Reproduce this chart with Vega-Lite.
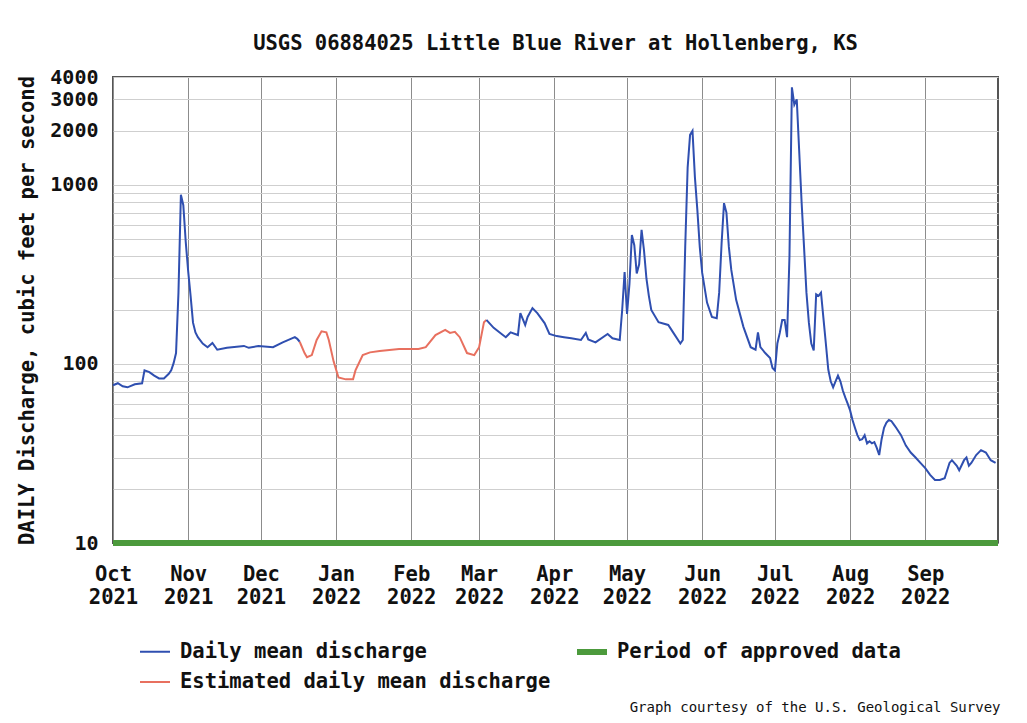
{
  "$schema": "https://vega.github.io/schema/vega-lite/v6.json",
  "autosize": {"type": "none"},
  "width": 885,
  "height": 466,
  "padding": {"left": 113, "top": 77, "right": 29, "bottom": 180},
  "background": "white",
  "title": {"text": "USGS 06884025 Little Blue River at Hollenberg, KS", "font": "DejaVu Sans Mono", "fontSize": 20.5, "fontWeight": "bold", "color": "#111", "anchor": "middle", "offset": 13},
  "config": {
    "view": {"stroke": "#555", "strokeWidth": 2},
    "axis": {"labelFont": "DejaVu Sans Mono", "titleFont": "DejaVu Sans Mono", "labelColor": "#111", "titleColor": "#111"}
  },
  "datasets": {
    "flow": [
      {"date": "2021-10-01", "q": 76, "series": "Daily mean discharge", "seg": "a"},
      {"date": "2021-10-03", "q": 78, "series": "Daily mean discharge", "seg": "a"},
      {"date": "2021-10-05", "q": 75, "series": "Daily mean discharge", "seg": "a"},
      {"date": "2021-10-07", "q": 74, "series": "Daily mean discharge", "seg": "a"},
      {"date": "2021-10-10", "q": 77, "series": "Daily mean discharge", "seg": "a"},
      {"date": "2021-10-13", "q": 78, "series": "Daily mean discharge", "seg": "a"},
      {"date": "2021-10-14", "q": 92, "series": "Daily mean discharge", "seg": "a"},
      {"date": "2021-10-16", "q": 90, "series": "Daily mean discharge", "seg": "a"},
      {"date": "2021-10-18", "q": 86, "series": "Daily mean discharge", "seg": "a"},
      {"date": "2021-10-20", "q": 83, "series": "Daily mean discharge", "seg": "a"},
      {"date": "2021-10-22", "q": 83, "series": "Daily mean discharge", "seg": "a"},
      {"date": "2021-10-24", "q": 88, "series": "Daily mean discharge", "seg": "a"},
      {"date": "2021-10-25", "q": 92, "series": "Daily mean discharge", "seg": "a"},
      {"date": "2021-10-26", "q": 101, "series": "Daily mean discharge", "seg": "a"},
      {"date": "2021-10-27", "q": 115, "series": "Daily mean discharge", "seg": "a"},
      {"date": "2021-10-28", "q": 250, "series": "Daily mean discharge", "seg": "a"},
      {"date": "2021-10-29", "q": 880, "series": "Daily mean discharge", "seg": "a"},
      {"date": "2021-10-30", "q": 770, "series": "Daily mean discharge", "seg": "a"},
      {"date": "2021-10-31", "q": 480, "series": "Daily mean discharge", "seg": "a"},
      {"date": "2021-11-01", "q": 330, "series": "Daily mean discharge", "seg": "a"},
      {"date": "2021-11-02", "q": 240, "series": "Daily mean discharge", "seg": "a"},
      {"date": "2021-11-03", "q": 170, "series": "Daily mean discharge", "seg": "a"},
      {"date": "2021-11-04", "q": 150, "series": "Daily mean discharge", "seg": "a"},
      {"date": "2021-11-05", "q": 141, "series": "Daily mean discharge", "seg": "a"},
      {"date": "2021-11-07", "q": 130, "series": "Daily mean discharge", "seg": "a"},
      {"date": "2021-11-09", "q": 124, "series": "Daily mean discharge", "seg": "a"},
      {"date": "2021-11-11", "q": 131, "series": "Daily mean discharge", "seg": "a"},
      {"date": "2021-11-13", "q": 120, "series": "Daily mean discharge", "seg": "a"},
      {"date": "2021-11-17", "q": 123, "series": "Daily mean discharge", "seg": "a"},
      {"date": "2021-11-24", "q": 126, "series": "Daily mean discharge", "seg": "a"},
      {"date": "2021-11-26", "q": 123, "series": "Daily mean discharge", "seg": "a"},
      {"date": "2021-11-30", "q": 126, "series": "Daily mean discharge", "seg": "a"},
      {"date": "2021-12-06", "q": 124, "series": "Daily mean discharge", "seg": "a"},
      {"date": "2021-12-10", "q": 132, "series": "Daily mean discharge", "seg": "a"},
      {"date": "2021-12-15", "q": 141, "series": "Daily mean discharge", "seg": "a"},
      {"date": "2021-12-16", "q": 138, "series": "Daily mean discharge", "seg": "a"},
      {"date": "2021-12-17", "q": 133, "series": "Daily mean discharge", "seg": "a"},
      {"date": "2021-12-17", "q": 133, "series": "Estimated daily mean discharge", "seg": "b"},
      {"date": "2021-12-19", "q": 115, "series": "Estimated daily mean discharge", "seg": "b"},
      {"date": "2021-12-20", "q": 109, "series": "Estimated daily mean discharge", "seg": "b"},
      {"date": "2021-12-22", "q": 112, "series": "Estimated daily mean discharge", "seg": "b"},
      {"date": "2021-12-24", "q": 136, "series": "Estimated daily mean discharge", "seg": "b"},
      {"date": "2021-12-26", "q": 152, "series": "Estimated daily mean discharge", "seg": "b"},
      {"date": "2021-12-28", "q": 150, "series": "Estimated daily mean discharge", "seg": "b"},
      {"date": "2021-12-29", "q": 136, "series": "Estimated daily mean discharge", "seg": "b"},
      {"date": "2021-12-31", "q": 103, "series": "Estimated daily mean discharge", "seg": "b"},
      {"date": "2022-01-02", "q": 84, "series": "Estimated daily mean discharge", "seg": "b"},
      {"date": "2022-01-05", "q": 82, "series": "Estimated daily mean discharge", "seg": "b"},
      {"date": "2022-01-08", "q": 82, "series": "Estimated daily mean discharge", "seg": "b"},
      {"date": "2022-01-09", "q": 92, "series": "Estimated daily mean discharge", "seg": "b"},
      {"date": "2022-01-12", "q": 112, "series": "Estimated daily mean discharge", "seg": "b"},
      {"date": "2022-01-15", "q": 116, "series": "Estimated daily mean discharge", "seg": "b"},
      {"date": "2022-01-19", "q": 118, "series": "Estimated daily mean discharge", "seg": "b"},
      {"date": "2022-01-27", "q": 121, "series": "Estimated daily mean discharge", "seg": "b"},
      {"date": "2022-02-04", "q": 121, "series": "Estimated daily mean discharge", "seg": "b"},
      {"date": "2022-02-07", "q": 124, "series": "Estimated daily mean discharge", "seg": "b"},
      {"date": "2022-02-11", "q": 145, "series": "Estimated daily mean discharge", "seg": "b"},
      {"date": "2022-02-15", "q": 155, "series": "Estimated daily mean discharge", "seg": "b"},
      {"date": "2022-02-17", "q": 149, "series": "Estimated daily mean discharge", "seg": "b"},
      {"date": "2022-02-19", "q": 151, "series": "Estimated daily mean discharge", "seg": "b"},
      {"date": "2022-02-21", "q": 141, "series": "Estimated daily mean discharge", "seg": "b"},
      {"date": "2022-02-24", "q": 115, "series": "Estimated daily mean discharge", "seg": "b"},
      {"date": "2022-02-27", "q": 112, "series": "Estimated daily mean discharge", "seg": "b"},
      {"date": "2022-03-01", "q": 124, "series": "Estimated daily mean discharge", "seg": "b"},
      {"date": "2022-03-03", "q": 171, "series": "Estimated daily mean discharge", "seg": "b"},
      {"date": "2022-03-04", "q": 176, "series": "Estimated daily mean discharge", "seg": "b"},
      {"date": "2022-03-04", "q": 176, "series": "Daily mean discharge", "seg": "c"},
      {"date": "2022-03-07", "q": 159, "series": "Daily mean discharge", "seg": "c"},
      {"date": "2022-03-10", "q": 148, "series": "Daily mean discharge", "seg": "c"},
      {"date": "2022-03-12", "q": 141, "series": "Daily mean discharge", "seg": "c"},
      {"date": "2022-03-14", "q": 150, "series": "Daily mean discharge", "seg": "c"},
      {"date": "2022-03-17", "q": 145, "series": "Daily mean discharge", "seg": "c"},
      {"date": "2022-03-18", "q": 192, "series": "Daily mean discharge", "seg": "c"},
      {"date": "2022-03-20", "q": 165, "series": "Daily mean discharge", "seg": "c"},
      {"date": "2022-03-21", "q": 183, "series": "Daily mean discharge", "seg": "c"},
      {"date": "2022-03-23", "q": 205, "series": "Daily mean discharge", "seg": "c"},
      {"date": "2022-03-25", "q": 192, "series": "Daily mean discharge", "seg": "c"},
      {"date": "2022-03-28", "q": 169, "series": "Daily mean discharge", "seg": "c"},
      {"date": "2022-03-30", "q": 147, "series": "Daily mean discharge", "seg": "c"},
      {"date": "2022-04-02", "q": 143, "series": "Daily mean discharge", "seg": "c"},
      {"date": "2022-04-05", "q": 141, "series": "Daily mean discharge", "seg": "c"},
      {"date": "2022-04-08", "q": 139, "series": "Daily mean discharge", "seg": "c"},
      {"date": "2022-04-12", "q": 136, "series": "Daily mean discharge", "seg": "c"},
      {"date": "2022-04-14", "q": 149, "series": "Daily mean discharge", "seg": "c"},
      {"date": "2022-04-15", "q": 137, "series": "Daily mean discharge", "seg": "c"},
      {"date": "2022-04-18", "q": 132, "series": "Daily mean discharge", "seg": "c"},
      {"date": "2022-04-23", "q": 147, "series": "Daily mean discharge", "seg": "c"},
      {"date": "2022-04-25", "q": 139, "series": "Daily mean discharge", "seg": "c"},
      {"date": "2022-04-28", "q": 136, "series": "Daily mean discharge", "seg": "c"},
      {"date": "2022-04-29", "q": 200, "series": "Daily mean discharge", "seg": "c"},
      {"date": "2022-04-30", "q": 326, "series": "Daily mean discharge", "seg": "c"},
      {"date": "2022-05-01", "q": 190, "series": "Daily mean discharge", "seg": "c"},
      {"date": "2022-05-02", "q": 280, "series": "Daily mean discharge", "seg": "c"},
      {"date": "2022-05-03", "q": 525, "series": "Daily mean discharge", "seg": "c"},
      {"date": "2022-05-04", "q": 460, "series": "Daily mean discharge", "seg": "c"},
      {"date": "2022-05-05", "q": 320, "series": "Daily mean discharge", "seg": "c"},
      {"date": "2022-05-06", "q": 360, "series": "Daily mean discharge", "seg": "c"},
      {"date": "2022-05-07", "q": 560, "series": "Daily mean discharge", "seg": "c"},
      {"date": "2022-05-08", "q": 430, "series": "Daily mean discharge", "seg": "c"},
      {"date": "2022-05-09", "q": 300, "series": "Daily mean discharge", "seg": "c"},
      {"date": "2022-05-10", "q": 240, "series": "Daily mean discharge", "seg": "c"},
      {"date": "2022-05-11", "q": 200, "series": "Daily mean discharge", "seg": "c"},
      {"date": "2022-05-14", "q": 171, "series": "Daily mean discharge", "seg": "c"},
      {"date": "2022-05-18", "q": 165, "series": "Daily mean discharge", "seg": "c"},
      {"date": "2022-05-20", "q": 150, "series": "Daily mean discharge", "seg": "c"},
      {"date": "2022-05-23", "q": 130, "series": "Daily mean discharge", "seg": "c"},
      {"date": "2022-05-24", "q": 136, "series": "Daily mean discharge", "seg": "c"},
      {"date": "2022-05-25", "q": 450, "series": "Daily mean discharge", "seg": "c"},
      {"date": "2022-05-26", "q": 1250, "series": "Daily mean discharge", "seg": "c"},
      {"date": "2022-05-27", "q": 1900, "series": "Daily mean discharge", "seg": "c"},
      {"date": "2022-05-28", "q": 2000, "series": "Daily mean discharge", "seg": "c"},
      {"date": "2022-05-29", "q": 1100, "series": "Daily mean discharge", "seg": "c"},
      {"date": "2022-05-30", "q": 725, "series": "Daily mean discharge", "seg": "c"},
      {"date": "2022-05-31", "q": 450, "series": "Daily mean discharge", "seg": "c"},
      {"date": "2022-06-01", "q": 322, "series": "Daily mean discharge", "seg": "c"},
      {"date": "2022-06-03", "q": 220, "series": "Daily mean discharge", "seg": "c"},
      {"date": "2022-06-05", "q": 183, "series": "Daily mean discharge", "seg": "c"},
      {"date": "2022-06-07", "q": 180, "series": "Daily mean discharge", "seg": "c"},
      {"date": "2022-06-08", "q": 250, "series": "Daily mean discharge", "seg": "c"},
      {"date": "2022-06-09", "q": 470, "series": "Daily mean discharge", "seg": "c"},
      {"date": "2022-06-10", "q": 790, "series": "Daily mean discharge", "seg": "c"},
      {"date": "2022-06-11", "q": 700, "series": "Daily mean discharge", "seg": "c"},
      {"date": "2022-06-12", "q": 450, "series": "Daily mean discharge", "seg": "c"},
      {"date": "2022-06-13", "q": 335, "series": "Daily mean discharge", "seg": "c"},
      {"date": "2022-06-15", "q": 228, "series": "Daily mean discharge", "seg": "c"},
      {"date": "2022-06-18", "q": 161, "series": "Daily mean discharge", "seg": "c"},
      {"date": "2022-06-21", "q": 124, "series": "Daily mean discharge", "seg": "c"},
      {"date": "2022-06-23", "q": 120, "series": "Daily mean discharge", "seg": "c"},
      {"date": "2022-06-24", "q": 150, "series": "Daily mean discharge", "seg": "c"},
      {"date": "2022-06-25", "q": 124, "series": "Daily mean discharge", "seg": "c"},
      {"date": "2022-06-27", "q": 115, "series": "Daily mean discharge", "seg": "c"},
      {"date": "2022-06-29", "q": 108, "series": "Daily mean discharge", "seg": "c"},
      {"date": "2022-06-30", "q": 95, "series": "Daily mean discharge", "seg": "c"},
      {"date": "2022-07-01", "q": 92, "series": "Daily mean discharge", "seg": "c"},
      {"date": "2022-07-02", "q": 130, "series": "Daily mean discharge", "seg": "c"},
      {"date": "2022-07-03", "q": 149, "series": "Daily mean discharge", "seg": "c"},
      {"date": "2022-07-04", "q": 176, "series": "Daily mean discharge", "seg": "c"},
      {"date": "2022-07-05", "q": 176, "series": "Daily mean discharge", "seg": "c"},
      {"date": "2022-07-06", "q": 141, "series": "Daily mean discharge", "seg": "c"},
      {"date": "2022-07-07", "q": 400, "series": "Daily mean discharge", "seg": "c"},
      {"date": "2022-07-08", "q": 3500, "series": "Daily mean discharge", "seg": "c"},
      {"date": "2022-07-09", "q": 2800, "series": "Daily mean discharge", "seg": "c"},
      {"date": "2022-07-10", "q": 3000, "series": "Daily mean discharge", "seg": "c"},
      {"date": "2022-07-11", "q": 1550, "series": "Daily mean discharge", "seg": "c"},
      {"date": "2022-07-12", "q": 800, "series": "Daily mean discharge", "seg": "c"},
      {"date": "2022-07-13", "q": 450, "series": "Daily mean discharge", "seg": "c"},
      {"date": "2022-07-14", "q": 250, "series": "Daily mean discharge", "seg": "c"},
      {"date": "2022-07-15", "q": 170, "series": "Daily mean discharge", "seg": "c"},
      {"date": "2022-07-16", "q": 130, "series": "Daily mean discharge", "seg": "c"},
      {"date": "2022-07-17", "q": 119, "series": "Daily mean discharge", "seg": "c"},
      {"date": "2022-07-18", "q": 245, "series": "Daily mean discharge", "seg": "c"},
      {"date": "2022-07-19", "q": 240, "series": "Daily mean discharge", "seg": "c"},
      {"date": "2022-07-20", "q": 250, "series": "Daily mean discharge", "seg": "c"},
      {"date": "2022-07-21", "q": 180, "series": "Daily mean discharge", "seg": "c"},
      {"date": "2022-07-22", "q": 130, "series": "Daily mean discharge", "seg": "c"},
      {"date": "2022-07-23", "q": 93, "series": "Daily mean discharge", "seg": "c"},
      {"date": "2022-07-24", "q": 80, "series": "Daily mean discharge", "seg": "c"},
      {"date": "2022-07-25", "q": 74, "series": "Daily mean discharge", "seg": "c"},
      {"date": "2022-07-26", "q": 80, "series": "Daily mean discharge", "seg": "c"},
      {"date": "2022-07-27", "q": 86, "series": "Daily mean discharge", "seg": "c"},
      {"date": "2022-07-28", "q": 80, "series": "Daily mean discharge", "seg": "c"},
      {"date": "2022-07-29", "q": 71, "series": "Daily mean discharge", "seg": "c"},
      {"date": "2022-07-30", "q": 65, "series": "Daily mean discharge", "seg": "c"},
      {"date": "2022-07-31", "q": 60, "series": "Daily mean discharge", "seg": "c"},
      {"date": "2022-08-01", "q": 55, "series": "Daily mean discharge", "seg": "c"},
      {"date": "2022-08-02", "q": 48.6, "series": "Daily mean discharge", "seg": "c"},
      {"date": "2022-08-03", "q": 44, "series": "Daily mean discharge", "seg": "c"},
      {"date": "2022-08-04", "q": 40, "series": "Daily mean discharge", "seg": "c"},
      {"date": "2022-08-05", "q": 37.6, "series": "Daily mean discharge", "seg": "c"},
      {"date": "2022-08-06", "q": 38, "series": "Daily mean discharge", "seg": "c"},
      {"date": "2022-08-07", "q": 40, "series": "Daily mean discharge", "seg": "c"},
      {"date": "2022-08-08", "q": 36, "series": "Daily mean discharge", "seg": "c"},
      {"date": "2022-08-09", "q": 37, "series": "Daily mean discharge", "seg": "c"},
      {"date": "2022-08-10", "q": 36, "series": "Daily mean discharge", "seg": "c"},
      {"date": "2022-08-11", "q": 36.6, "series": "Daily mean discharge", "seg": "c"},
      {"date": "2022-08-12", "q": 34, "series": "Daily mean discharge", "seg": "c"},
      {"date": "2022-08-13", "q": 31, "series": "Daily mean discharge", "seg": "c"},
      {"date": "2022-08-14", "q": 38, "series": "Daily mean discharge", "seg": "c"},
      {"date": "2022-08-15", "q": 44, "series": "Daily mean discharge", "seg": "c"},
      {"date": "2022-08-16", "q": 47, "series": "Daily mean discharge", "seg": "c"},
      {"date": "2022-08-17", "q": 48.6, "series": "Daily mean discharge", "seg": "c"},
      {"date": "2022-08-18", "q": 48, "series": "Daily mean discharge", "seg": "c"},
      {"date": "2022-08-19", "q": 46, "series": "Daily mean discharge", "seg": "c"},
      {"date": "2022-08-20", "q": 44, "series": "Daily mean discharge", "seg": "c"},
      {"date": "2022-08-22", "q": 40, "series": "Daily mean discharge", "seg": "c"},
      {"date": "2022-08-24", "q": 35, "series": "Daily mean discharge", "seg": "c"},
      {"date": "2022-08-26", "q": 32, "series": "Daily mean discharge", "seg": "c"},
      {"date": "2022-08-28", "q": 30, "series": "Daily mean discharge", "seg": "c"},
      {"date": "2022-08-30", "q": 28, "series": "Daily mean discharge", "seg": "c"},
      {"date": "2022-09-01", "q": 26.2, "series": "Daily mean discharge", "seg": "c"},
      {"date": "2022-09-03", "q": 24, "series": "Daily mean discharge", "seg": "c"},
      {"date": "2022-09-05", "q": 22.5, "series": "Daily mean discharge", "seg": "c"},
      {"date": "2022-09-07", "q": 22.5, "series": "Daily mean discharge", "seg": "c"},
      {"date": "2022-09-09", "q": 23, "series": "Daily mean discharge", "seg": "c"},
      {"date": "2022-09-11", "q": 28, "series": "Daily mean discharge", "seg": "c"},
      {"date": "2022-09-12", "q": 29, "series": "Daily mean discharge", "seg": "c"},
      {"date": "2022-09-14", "q": 27, "series": "Daily mean discharge", "seg": "c"},
      {"date": "2022-09-15", "q": 25.5, "series": "Daily mean discharge", "seg": "c"},
      {"date": "2022-09-17", "q": 29, "series": "Daily mean discharge", "seg": "c"},
      {"date": "2022-09-18", "q": 30, "series": "Daily mean discharge", "seg": "c"},
      {"date": "2022-09-19", "q": 27, "series": "Daily mean discharge", "seg": "c"},
      {"date": "2022-09-20", "q": 28, "series": "Daily mean discharge", "seg": "c"},
      {"date": "2022-09-22", "q": 31, "series": "Daily mean discharge", "seg": "c"},
      {"date": "2022-09-24", "q": 33, "series": "Daily mean discharge", "seg": "c"},
      {"date": "2022-09-26", "q": 32, "series": "Daily mean discharge", "seg": "c"},
      {"date": "2022-09-28", "q": 29, "series": "Daily mean discharge", "seg": "c"},
      {"date": "2022-09-30", "q": 28, "series": "Daily mean discharge", "seg": "c"}
    ],
    "approved": [
      {"start": "2021-10-01", "end": "2022-10-01", "q": 10, "series": "Period of approved data"}
    ]
  },
  "encoding": {
    "x": {
      "field": "date", "type": "temporal",
      "scale": {"type": "utc", "domain": [{"year": 2021, "month": 10, "date": 1, "utc": true}, {"year": 2022, "month": 10, "date": 1, "utc": true}]},
      "axis": {
        "values": [
          {"year": 2021, "month": 10, "date": 1, "utc": true},
          {"year": 2021, "month": 11, "date": 1, "utc": true},
          {"year": 2021, "month": 12, "date": 1, "utc": true},
          {"year": 2022, "month": 1, "date": 1, "utc": true},
          {"year": 2022, "month": 2, "date": 1, "utc": true},
          {"year": 2022, "month": 3, "date": 1, "utc": true},
          {"year": 2022, "month": 4, "date": 1, "utc": true},
          {"year": 2022, "month": 5, "date": 1, "utc": true},
          {"year": 2022, "month": 6, "date": 1, "utc": true},
          {"year": 2022, "month": 7, "date": 1, "utc": true},
          {"year": 2022, "month": 8, "date": 1, "utc": true},
          {"year": 2022, "month": 9, "date": 1, "utc": true}
        ],
        "labelExpr": "[utcFormat(datum.value, '%b'), utcFormat(datum.value, '%Y')]",
        "labelFontSize": 20.5,
        "labelFontWeight": "bold",
        "labelLineHeight": 23,
        "labelPadding": 21,
        "labelAlign": "center",
        "labelOverlap": false,
        "labelFlush": false,
        "ticks": false,
        "domain": false,
        "grid": true,
        "gridColor": "#8c8c8c",
        "gridWidth": 1,
        "title": "Graph courtesy of the U.S. Geological Survey",
        "titleFontSize": 14,
        "titleFontWeight": "normal",
        "titleAlign": "right",
        "titleAnchor": "end",
        "titleBaseline": "middle",
        "titleX": 887,
        "titleY": 164
      }
    },
    "y": {
      "field": "q", "type": "quantitative",
      "scale": {"type": "log", "domain": [10, 4000], "nice": false},
      "axis": {
        "values": [10, 20, 30, 40, 50, 60, 70, 80, 90, 100, 200, 300, 400, 500, 600, 700, 800, 900, 1000, 2000, 3000, 4000],
        "labelExpr": "indexof([10, 100, 1000, 2000, 3000, 4000], datum.value) >= 0 ? format(datum.value, 'd') : ''",
        "labelFontSize": 20,
        "labelFontWeight": "bold",
        "labelPadding": 15,
        "labelOverlap": false,
        "ticks": false,
        "domain": false,
        "grid": true,
        "gridColor": "#cfcfcf",
        "gridWidth": 1,
        "title": "DAILY Discharge, cubic feet per second",
        "titleFontSize": 20.5,
        "titleFontWeight": "bold",
        "titlePadding": 12
      }
    },
    "color": {
      "field": "series", "type": "nominal",
      "scale": {"domain": ["Daily mean discharge", "Estimated daily mean discharge", "Period of approved data"], "range": ["#2f4fb0", "#e8705f", "#4c9a3c"]},
      "title": null,
      "legend": {
        "orient": "none", "legendX": 24, "legendY": 557, "columns": 2, "columnPadding": 14, "rowPadding": 2,
        "symbolType": "stroke", "symbolSize": 900, "labelFont": "DejaVu Sans Mono", "labelFontSize": 20.5,
        "labelFontWeight": "bold", "labelColor": "#111", "labelOffset": 7, "labelLimit": 600, "title": null
      }
    },
    "strokeWidth": {
      "field": "series", "type": "nominal",
      "scale": {"type": "ordinal", "domain": ["Daily mean discharge", "Estimated daily mean discharge", "Period of approved data"], "range": [2, 2, 6]},
      "title": null
    }
  },
  "layer": [
    {
      "data": {"name": "approved"},
      "mark": {"type": "rule"},
      "encoding": {
        "x": {"field": "start", "type": "temporal"},
        "x2": {"field": "end"},
        "y": {"field": "q", "type": "quantitative"}
      }
    },
    {
      "data": {"name": "flow"},
      "mark": {"type": "line", "interpolate": "linear"},
      "encoding": {
        "detail": {"field": "seg", "type": "nominal"}
      }
    }
  ]
}
